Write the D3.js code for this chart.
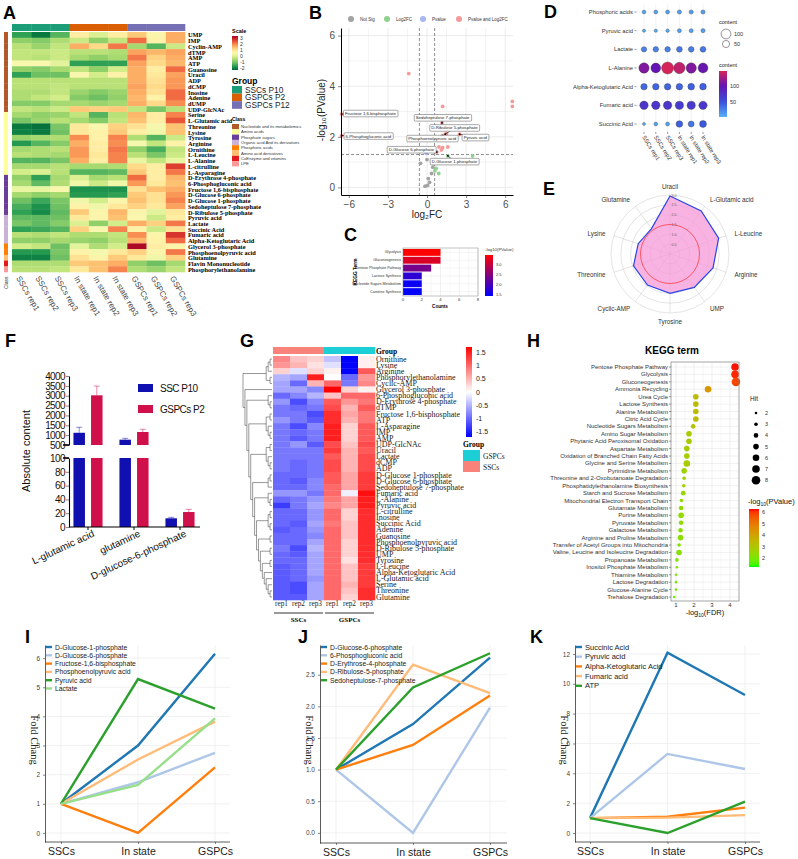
<!DOCTYPE html>
<html>
<head>
<meta charset="utf-8">
<title>Metabolomics figure</title>
<script src="https://cdn.jsdelivr.net/npm/d3@7"></script>
<style>
  body { margin: 0; background: #fff; }
  svg { display: block; }
</style>
</head>
<body>
<svg id="fig" width="798" height="859"></svg>
<script>
// ---------- A: clustered heatmap ----------
const aCols = ["SSCs rep1", "SSCs rep2", "SSCs rep3", "In state rep1", "In state rep2", "In state rep3", "GSPCs rep1", "GSPCs rep2", "GSPCs rep3"];
const aGroupNames = ["SSCs P10", "GSPCs P2", "GSPCs P12"];
const aGroupOfCol = [0, 0, 0, 1, 1, 1, 2, 2, 2];
const aRows = ["UMP", "IMP", "Cyclin-AMP", "dTMP", "AMP", "ATP", "Guanosine", "Uracil", "ADP", "dCMP", "Inosine", "Adenine", "dUMP", "UDP-GlcNAc",
  "Serine", "L-Glutamic acid", "Threonine", "Lysine", "Tyrosine", "Arginine", "Ornithine", "L-Leucine", "L-Alanine", "L-citrulline", "L-Asparagine",
  "D-Erythrose 4-phosphate", "6-Phosphogluconic acid", "Fructose 1,6-bisphosphate", "D-Glucose 6-phosphate", "D-Glucose 1-phosphate", "Sedoheptulose 7-phosphate", "D-Ribulose 5-phosphate",
  "Pyruvic acid", "Lactate", "Succinic Acid", "Fumaric acid", "Alpha-Ketoglutaric Acid", "Glycerol 3-phosphate", "Phosphoenolpyruvic acid",
  "Glutamine", "Flavin Mononucleotide", "Phosphorylethanolamine"];
const aClassNames = ["Nucleotide and its metabolomics", "Amino acids", "Phosphate sugars", "Organic acid And its derivatives", "Phosphoric acids", "Amino acid derivatives", "CoEnzyme and vitamins", "LPE"];
const aClassOfRow = [0,0,0,0,0,0,0,0,0,0,0,0,0,0, 1,1,1,1,1,1,1,1,1,1,1, 2,2,2,2,2,2,2, 3,3,3,3,3, 4,4, 5, 6, 7];
const aValues = [
  [-1.6,-2.1,-1.3, 0.8, 0.0, 0.8, 1.3, 0.6, 1.6],
  [-0.8,-0.9,-0.5,-0.2,-0.8,-0.3, 2.2, 0.7, 1.6],
  [-0.4,-0.7,-0.3, 1.6, 1.1, 2.1,-0.6,-1.3,-0.2],
  [-0.3,-0.3,-0.2,-0.4,-0.4,-0.5, 1.7, 1.5, 1.7],
  [-0.3,-0.4,-0.2,-0.6,-0.8,-0.6, 2.1, 1.2, 1.6],
  [ 0.5, 0.5, 0.1,-1.6,-1.6,-1.6, 1.7, 1.1, 1.5],
  [-0.8,-0.9,-0.6,-0.3,-0.8,-0.1, 1.6, 0.8, 2.2],
  [-1.6,-1.1,-1.1, 0.5,-0.1, 0.7, 1.6, 0.9, 1.7],
  [-0.4,-0.4,-0.4,-0.4,-0.4,-0.4, 1.6, 1.0, 1.8],
  [-0.4,-0.4,-0.3,-0.4,-0.4,-0.4, 1.7, 1.1, 1.8],
  [-0.5,-0.5,-0.3,-0.7,-0.9,-0.7, 1.6, 1.0, 2.2],
  [-0.5,-0.3,-0.1,-0.9,-1.1,-0.8, 1.5, 0.7, 2.2],
  [-0.9,-0.9,-0.6,-0.6,-0.7,-0.6, 1.6, 1.1, 1.9],
  [-0.3,-0.4,-0.2, 1.3, 1.2, 1.3,-0.3,-1.0,-0.4],
  [-0.6,-0.8,-0.7,-0.3,-1.3,-0.4, 1.5, 0.8, 2.0],
  [-1.0,-0.7,-0.4,-0.6,-0.9,-0.3, 1.4, 0.8, 2.4],
  [-2.1,-2.2,-1.0, 0.9, 0.5, 1.2, 1.0, 0.4, 1.4],
  [-2.0,-2.1,-1.1, 0.9, 0.7, 1.3, 0.8, 0.3, 1.4],
  [-0.7,-0.6,-0.5, 1.9, 0.7, 2.0,-0.5,-1.3,-0.2],
  [-1.7,-1.3,-0.9, 1.6, 0.8, 1.9, 0.4,-0.3, 0.7],
  [-0.6,-0.5,-0.4, 1.8, 0.8, 2.1,-0.8,-1.4,-0.3],
  [-0.4,-0.5,-0.6, 1.8, 0.9, 2.0,-0.4,-1.0,-0.2],
  [-1.3,-1.3,-1.0, 1.6, 0.8, 2.0, 0.2,-0.3, 0.2],
  [-0.6,-0.6,-0.4,-0.6,-0.6,-0.5, 1.1, 0.8, 2.6],
  [-0.1, 0.0,-0.4,-1.3,-1.3,-1.2, 1.3, 0.8, 2.1],
  [-0.8,-1.6,-0.6, 0.0,-0.6,-0.4, 2.2, 0.8, 1.5],
  [-0.6,-1.2,-0.5, 0.3,-0.2, 0.3, 1.8, 0.9, 1.4],
  [ 0.2, 0.2, 0.5,-1.8,-1.8,-1.8, 1.0, 1.4, 1.6],
  [-0.6,-0.8,-0.6,-1.7,-1.7,-1.6, 1.3, 1.0, 1.8],
  [-1.1,-1.5,-1.0, 0.3,-0.1, 0.6, 1.4, 1.0, 2.0],
  [-1.4,-1.8,-1.1, 0.7, 0.3, 0.9, 1.2, 0.9, 1.7],
  [-1.6,-1.9,-1.2, 1.3, 0.6, 1.5, 0.6, 0.1, 0.9],
  [-1.2,-1.2,-1.1, 0.9, 0.6, 1.4, 0.5,-0.2, 0.8],
  [-1.0,-1.2,-0.9, 0.0,-0.8,-0.1, 1.6, 1.2, 2.1],
  [-1.6,-1.5,-1.3, 1.2, 0.5, 2.0, 0.7,-0.2, 1.0],
  [-0.4,-0.5,-0.3,-0.5,-0.5,-0.3, 1.9, 0.6, 2.7],
  [-0.8,-0.8,-0.6,-0.7,-0.8,-0.4, 1.5, 0.7, 2.2],
  [-0.1,-0.3,-1.1, 0.1,-0.5,-0.1, 3.2, 0.8, 0.6],
  [-1.7,-1.7,-1.0, 0.7, 0.4, 0.9, 1.2, 0.6, 2.1],
  [-2.0,-2.0,-1.1, 1.0, 0.6, 1.3, 0.9, 0.3, 1.2],
  [-0.5,-0.5,-0.5, 1.3, 1.4, 1.6,-0.8,-1.1,-0.6],
  [-0.4,-0.4,-0.3, 0.9, 1.4, 2.0,-0.5,-0.7,-0.3]
];

// ---------- B: volcano ----------
const volFC = [-1.4, 6.55, 6.55, -6.55, -6.55, 1.2, 1.15, 1.4, 1.5, 2.5, 1.2, 0.75, 0.92, 1.2, 1.6, 1.1, 1.45, 1.6, 3.5, 0.9, 0.8, -0.05, 0.0, -0.5, 0.45, 0.1, 0.2, 0.05, -0.15, 0.6, 0.7, 0.35];
const volP = [4.5, 3.4, 3.2, 2.9, 2.05, 3.2, 2.55, 2.1, 2.12, 2.1, 2.05, 1.4, 1.6, 1.57, 1.6, 1.48, 2.07, 1.25, 1.25, 0.55, 0.95, 1.35, 1.1, 0.95, 0.8, 0.35, 0.2, 0.08, 0.05, 0.65, 0.75, 0.55];
const volLabels = [
  { name: "Fructose 1,6-bisphosphate", i: 3, fc: -4.34, p: 2.92 },
  { name: "6-Phosphogluconic acid", i: 4, fc: -4.5, p: 2.03 },
  { name: "Sedoheptulose 7-phosphate", i: 6, fc: 1.2, p: 2.75 },
  { name: "D-Ribulose 5-phosphate", i: 7, fc: 2.1, p: 2.35 },
  { name: "Pyruvic acid", i: 9, fc: 3.7, p: 1.97 },
  { name: "Phosphoenolpyruvic acid", i: 10, fc: 0.4, p: 1.93 },
  { name: "D-Glucose 6-phosphate", i: 11, fc: -1.2, p: 1.49 },
  { name: "D-Glucose 1-phosphate", i: 17, fc: 2.1, p: 1.02 }
];
const volLegend = ["Not Sig", "Log2FC", "Pvalue", "Pvalue and Log2FC"];

// ---------- C: KEGG bars ----------
const cTerms = ["Glycolysis", "Gluconeogenesis", "Pentose Phosphate Pathway", "Lactose Synthesis", "Nucleotide Sugars Metabolism", "Carnitine Synthesis"];
const cCounts = [4, 4, 3, 2, 2, 2];
const cLogP = [3.45, 3.15, 2.35, 1.75, 1.5, 1.42];

// ---------- D: bubble ----------
const dMetabolites = ["Phosphoric acids", "Pyruvic acid", "Lactate", "L-Alanine", "Alpha-Ketoglutaric Acid", "Fumaric acid", "Succinic Acid"];
const dSamples = ["SSCs rep1", "SSCs rep2", "SSCs rep3", "In state rep1", "In state rep2", "In state rep3"];
const dContent = [
  [8, 9, 10, 12, 12, 12],
  [3, 4, 6, 10, 10, 11],
  [25, 26, 26, 30, 28, 30],
  [112, 100, 155, 138, 112, 102],
  [38, 40, 40, 40, 42, 42],
  [72, 72, 72, 68, 68, 70],
  [2, 8, 10, 42, 32, 46]
];

// ---------- E: radar ----------
const eAxes = ["Uracil", "L-Glutamic acid", "L-Leucine", "Arginine", "UMP", "Tyrosine", "Cyclic-AMP", "Threonine", "Lysine", "Glutamine"];
const eValues = [2.95, 2.7, 2.6, 2.3, 2.1, 2.0, 1.95, 1.95, 1.7, 1.6];
const eRings = [0.5, 1.0, 1.5, 2.0, 2.5, 3.0];

// ---------- F: broken-axis bars ----------
const fMetabolites = ["L-glutamic acid", "glutamine", "D-glucose-6-phosphate"];
const fSeries = ["SSC P10", "GSPCs P2"];
const fSSC = [1120, 770, 12.6];
const fSSCErr = [280, 70, 1.4];
const fGSPC = [3020, 1160, 21.7];
const fGSPCErr = [470, 136, 3.9];

// ---------- G: z-score heatmap ----------
const gSamples = ["rep1", "rep2", "rep3", "rep1 ", "rep2 ", "rep3 "];
const gGroups = ["SSCs", "SSCs", "SSCs", "GSPCs", "GSPCs", "GSPCs"];
const gRows = ["Ornithine", "Lysine", "Arginine", "Phosphorylethanolamine", "Cyclic-AMP", "Glycerol 3-phosphate", "6-Phosphogluconic acid",
  "D-Erythrose 4-phosphate", "dTMP", "Fructose 1,6-bisphosphate", "ATP", "L-Asparagine", "IMP", "AMP", "UDP-GlcNAc", "Uracil", "Lactate",
  "dCMP", "ADP", "D-Glucose 1-phosphate", "D-Glucose 6-phosphate", "Sedoheptulose 7-phosphate", "Fumaric acid", "L-Alanine", "Pyruvic acid",
  "L-citrulline", "Inosine", "Succinic Acid", "Adenine", "Guanosine", "Phosphoenolpyruvic acid", "D-Ribulose 5-phosphate", "UMP", "Tyrosine",
  "L-Leucine", "Alpha-Ketoglutaric Acid", "L-Glutamic acid", "Serine", "Threonine", "Glutamine"];
const gValues = [
  [0.8, 0.4, 0.3, -0.4, -1.8, 0.1],
  [0.7, 0.5, 0.2, -0.2, -1.8, 0.1],
  [0.3, -0.2, 0.3, 0.1, -1.8, 1.1],
  [-0.5, -0.6, 1.5, 0.0, -1.0, 0.7],
  [-0.6, -1.0, 0.5, 1.0, -0.9, 0.8],
  [-0.6, -0.6, -0.8, 1.9, 0.3, 0.1],
  [-1.0, -0.8, -0.5, 0.4, 1.0, 1.0],
  [-0.7, -1.2, -0.8, 1.1, 0.7, 0.9],
  [-0.9, -1.0, -0.9, 1.2, 0.5, 1.1],
  [-0.9, -0.9, -1.2, 1.4, 0.6, 0.9],
  [-0.7, -0.9, -1.1, 1.4, 0.5, 0.9],
  [-0.9, -1.2, -0.8, 1.5, 0.3, 1.1],
  [-0.9, -1.0, -0.9, 1.5, 0.3, 1.1],
  [-0.9, -1.1, -0.9, 1.5, 0.3, 1.1],
  [-0.9, -0.7, -1.1, 1.2, 0.4, 1.2],
  [-0.9, -0.9, -0.9, 1.3, 0.5, 1.1],
  [-0.9, -0.9, -0.9, 1.1, 0.5, 1.2],
  [-0.9, -1.0, -0.9, 1.2, 0.5, 1.2],
  [-0.9, -1.0, -0.9, 1.2, 0.5, 1.2],
  [-1.0, -1.0, -0.9, 1.1, 0.6, 1.3],
  [-1.0, -1.1, -0.8, 1.1, 0.6, 1.3],
  [-1.0, -1.0, -0.8, 1.0, 0.6, 1.3],
  [-0.7, -0.7, -0.9, 1.0, -0.1, 1.6],
  [-1.0, -0.9, -0.7, 0.9, 0.6, 1.5],
  [-1.3, -0.9, -0.6, 0.8, 0.6, 1.5],
  [-1.0, -1.0, -0.7, 1.0, 0.3, 1.4],
  [-1.0, -1.0, -0.7, 1.0, 0.3, 1.4],
  [-1.0, -1.1, -0.6, 0.9, 0.4, 1.4],
  [-1.1, -1.0, -0.7, 1.0, 0.4, 1.4],
  [-1.0, -1.0, -0.8, 1.0, 0.4, 1.4],
  [-1.0, -1.0, -0.6, 1.0, 0.3, 1.4],
  [-0.9, -1.2, -0.5, 1.0, 0.3, 1.4],
  [-1.0, -1.1, -0.6, 1.0, 0.3, 1.4],
  [-1.0, -1.0, -0.6, 1.0, 0.2, 1.4],
  [-1.1, -1.0, -0.6, 1.0, 0.4, 1.3],
  [-1.1, -1.0, -0.6, 1.0, 0.4, 1.3],
  [-1.1, -1.0, -0.7, 1.0, 0.4, 1.3],
  [-1.1, -1.2, -0.6, 1.0, 0.5, 1.3],
  [-1.1, -1.2, -0.6, 1.0, 0.4, 1.4],
  [-1.1, -1.1, -0.6, 1.0, 0.3, 1.4]
];
// row clustering (leaf = row index)
const gT5 = [[33, 34], [35, [36, [37, [38, 39]]]]];
const gT4 = [[29, 30], [[31, 32], gT5]];
const gT3 = [[[25, 26], [27, 28]], gT4];
const gT2 = [[22, [23, 24]], gT3];
const gT1 = [[[19, 20], 21], gT2];
const gT0 = [[[14, 15], [16, [17, 18]]], gT1];
const gTm = [[[9, 10], [11, [12, 13]]], gT0];
const gTr = [[6, [7, 8]], gTm];
const gTree = [[[[0, 1], 2], [3, 4]], [5, gTr]];

// ---------- H: KEGG dot plot ----------
const hTerms = ["Pentose Phosphate Pathway", "Glycolysis", "Gluconeogenesis", "Ammonia Recycling", "Urea Cycle", "Lactose Synthesis",
  "Alanine Metabolism", "Citric Acid Cycle", "Nucleotide Sugars Metabolism", "Amino Sugar Metabolism", "Phytanic Acid Peroxisomal Oxidation",
  "Aspartate Metabolism", "Oxidation of Branched Chain Fatty Acids", "Glycine and Serine Metabolism", "Pyrimidine Metabolism",
  "Threonine and 2-Oxobutanoate Degradation", "Phosphatidylethanolamine Biosynthesis", "Starch and Sucrose Metabolism",
  "Mitochondrial Electron Transport Chain", "Glutamate Metabolism", "Purine Metabolism", "Pyruvate Metabolism", "Galactose Metabolism",
  "Arginine and Proline Metabolism", "Transfer of Acetyl Groups into Mitochondria", "Valine, Leucine and Isoleucine Degradation",
  "Propanoate Metabolism", "Inositol Phosphate Metabolism", "Thiamine Metabolism", "Lactose Degradation", "Glucose-Alanine Cycle", "Trehalose Degradation"];
const hFDR = [4.28, 4.28, 4.33, 2.78, 2.1, 2.1, 2.1, 2.1, 1.95, 1.72, 1.72, 1.6, 1.6, 1.6, 1.45, 1.45, 1.43, 1.4, 1.3, 1.28, 1.28, 1.28, 1.25, 1.25, 1.17, 1.17, 1.05, 1.05, 1.0, 1.0, 1.0, 0.9];
const hHit = [7, 7, 8, 6, 5, 5, 5, 5, 4, 5, 5, 5, 5, 6, 5, 3, 3, 4, 3, 4, 5, 4, 4, 5, 3, 5, 3, 2, 2, 2, 2, 2];
const hLogP = [6.2, 6.1, 5.8, 4.3, 3.3, 3.3, 3.3, 3.3, 3.1, 2.9, 2.9, 2.8, 2.8, 2.8, 2.6, 2.6, 2.6, 2.5, 2.4, 2.4, 2.4, 2.4, 2.3, 2.3, 2.2, 2.2, 2.1, 2.1, 2.0, 2.0, 2.0, 1.9];

// ---------- I, J, K: fold change lines ----------
const foldStages = ["SSCs", "In state", "GSPCs"];
const foldColors = ["#1f77b4", "#aec7e8", "#ff7f0e", "#ffbb78", "#2ca02c", "#98df8a"];
const iNames = ["D-Glucose-1-phosphate", "D-Glucose-6-phosphate", "Fructose-1,6-bisphosphate", "Phosphoenolpyruvic acid", "Pyruvic acid", "Lactate"];
const iValues = [[1, 3.0, 6.15], [1, 1.74, 2.75], [1, 0, 2.25], [1, 2.52, 3.82], [1, 5.28, 4.27], [1, 1.65, 3.93]];
const jNames = ["D-Glucose-6-phosphate", "6-Phosphogluconic acid", "D-Erythrose-4-phosphate", "D-Ribulose-5-phosphate", "Sedoheptulose-7-phosphate"];
const jValues = [[1, 1.72, 2.77], [1, 0, 1.98], [1, 1.39, 2.17], [1, 2.66, 2.21], [1, 2.3, 2.84]];
const kNames = ["Succinic Acid", "Pyruvic acid", "Alpha-Ketoglutaric Acid", "Fumaric acid", "ATP"];
const kValues = [[1, 12.08, 9.25], [1, 5.3, 4.29], [1, 1.09, 1.7], [1, 1.03, 1.2], [1, 0, 2.1]];

// =====================================================================
const SANS = '"Liberation Sans", Arial, Helvetica, sans-serif';
const SERIF = '"Liberation Serif", "Times New Roman", Times, serif';
const svg = d3.select("#fig").attr("font-family", SANS);
svg.append("rect").attr("width", 798).attr("height", 859).attr("fill", "#fff");
const defs = svg.append("defs");

function txt(g, x, y, s, size, o = {}) {
  const t = g.append("text")
    .attr("x", x).attr("y", y)
    .attr("font-size", size)
    .attr("fill", o.fill || "#000")
    .attr("text-anchor", o.anchor || "start")
    .text(s);
  if (o.bold) t.attr("font-weight", "bold");
  if (o.serif) t.attr("font-family", SERIF);
  if (o.rotate) t.attr("transform", `rotate(${o.rotate},${x},${y})`);
  if (o.mid) t.attr("dominant-baseline", "central");
  return t;
}

// vertical gradient, bottom = lo, top = hi
function gradient(id, color, lo, hi) {
  const lg = defs.append("linearGradient").attr("id", id)
    .attr("x1", 0).attr("y1", 1).attr("x2", 0).attr("y2", 0);
  d3.range(0, 1.0001, 0.05).forEach(t => {
    lg.append("stop").attr("offset", t).attr("stop-color", color(lo + t * (hi - lo)));
  });
  return `url(#${id})`;
}

function styleAxis(a, size, fill) {
  a.attr("font-family", SANS).attr("font-size", size);
  a.selectAll(".tick text").attr("fill", fill || "#4d4d4d");
  a.selectAll(".tick line").attr("stroke", "#333").attr("stroke-width", 0.6);
  return a;
}

// panel letters
[["A", 3, 19], ["B", 309, 19], ["C", 344, 241], ["D", 544, 18], ["E", 543, 195], ["F", 5, 347],
 ["G", 240, 347], ["H", 527, 347], ["I", 25, 643], ["J", 298, 643], ["K", 530, 643]]
  .forEach(([l, x, y]) => txt(svg, x, y, l, 18, { bold: true }));

// ---------------- A ----------------
{
  const g = svg.append("g");
  const x = d3.scaleBand().domain(aCols).range([12, 185]);
  const y = d3.scaleBand().domain(aRows).range([32, 272]);
  const color = d3.scaleSequential(t => d3.interpolateRdYlGn(1 - t)).domain([-2.3, 3.3]);
  const groupColor = d3.scaleOrdinal().domain(aGroupNames).range(["#1b9e77", "#d95f02", "#7570b3"]);
  const classColor = d3.scaleOrdinal().domain(aClassNames)
    .range(["#b15928", "#ffff99", "#6a3d9a", "#cab2d6", "#ff7f00", "#fdbf6f", "#e31a1c", "#fb9a99"]);

  aValues.forEach((row, i) => {
    g.append("g").selectAll("rect").data(row).join("rect")
      .attr("x", (d, j) => x(aCols[j])).attr("y", y(aRows[i]))
      .attr("width", x.bandwidth() + 0.3).attr("height", y.bandwidth() + 0.3)
      .attr("fill", d => color(d));
  });
  g.append("g").selectAll("rect").data(aCols).join("rect")
    .attr("x", d => x(d)).attr("y", 24).attr("width", x.bandwidth() + 0.3).attr("height", 7)
    .attr("fill", (d, j) => groupColor(aGroupNames[aGroupOfCol[j]]));
  g.append("g").selectAll("rect").data(aRows).join("rect")
    .attr("x", 4).attr("y", d => y(d)).attr("width", 4).attr("height", y.bandwidth() + 0.3)
    .attr("fill", (d, i) => classColor(aClassNames[aClassOfRow[i]]));
  g.append("g").selectAll("text").data(aRows).join("text")
    .attr("x", 188).attr("y", d => y(d) + y.bandwidth() / 2)
    .attr("dominant-baseline", "central")
    .attr("font-family", SERIF).attr("font-weight", "bold").attr("font-size", 6.3)
    .text(d => d);
  g.append("g").selectAll("text").data(aCols).join("text")
    .attr("transform", d => `translate(${x(d) + 4},${278}) rotate(60)`)
    .attr("font-size", 8).attr("fill", "#444").text(d => d);
  txt(g, 8, 289, "Class", 5, { rotate: -90, fill: "#333" });

  // legends
  txt(g, 232, 33, "Scale", 5.5, { bold: true });
  const ly = d3.scaleLinear().domain([-2.3, 3.3]).range([70, 36]);
  g.append("rect").attr("x", 232).attr("y", 36).attr("width", 6).attr("height", 34)
    .attr("fill", gradient("gradA", color, -2.3, 3.3));
  [3, 2, 1, 0, -1, -2].forEach(v => txt(g, 240, ly(v) + 1.7, v, 5, { fill: "#333" }));

  txt(g, 232, 84, "Group", 8.5, { bold: true });
  aGroupNames.forEach((n, k) => {
    g.append("rect").attr("x", 232).attr("y", 86 + k * 7.6).attr("width", 10).attr("height", 7.6).attr("fill", groupColor(n));
    txt(g, 245, 92.5 + k * 7.6, n, 8.3, { fill: "#222" });
  });
  txt(g, 232, 121, "Class", 5, { bold: true });
  aClassNames.forEach((n, k) => {
    g.append("rect").attr("x", 232).attr("y", 124 + k * 5.3).attr("width", 7).attr("height", 5.3).attr("fill", classColor(n));
    txt(g, 241, 128 + k * 5.3, n, 4.2, { fill: "#333" });
  });
}

// ---------------- B ----------------
{
  const g = svg.append("g");
  const x = d3.scaleLinear().domain([-6.6, 6.6]).range([341, 513]);
  const y = d3.scaleLinear().domain([-0.3, 6.3]).range([195, 28]);
  [-6, -4.5, -3, -1.5, 0, 1.5, 3, 4.5, 6].forEach(v =>
    g.append("line").attr("x1", x(v)).attr("x2", x(v)).attr("y1", 28).attr("y2", 195)
      .attr("stroke", "#e6e6e6").attr("stroke-width", Number.isInteger(v / 3) ? 0.8 : 0.5));
  [0, 1, 2, 3, 4, 5, 6].forEach(v =>
    g.append("line").attr("x1", 341).attr("x2", 513).attr("y1", y(v)).attr("y2", y(v))
      .attr("stroke", "#e6e6e6").attr("stroke-width", v % 2 ? 0.5 : 0.8));
  [-0.585, 0.585].forEach(v =>
    g.append("line").attr("x1", x(v)).attr("x2", x(v)).attr("y1", 28).attr("y2", 195)
      .attr("stroke", "#444").attr("stroke-width", 0.6).attr("stroke-dasharray", "3,2"));
  g.append("line").attr("x1", 341).attr("x2", 513).attr("y1", y(1.301)).attr("y2", y(1.301))
    .attr("stroke", "#444").attr("stroke-width", 0.6).attr("stroke-dasharray", "3,2");

  const cat = (fc, p) => Math.abs(fc) > 0.585 ? (p > 1.301 ? 3 : 1) : (p > 1.301 ? 2 : 0);
  const colors = ["#a3a3a3", "#8fd18f", "#a7b7f2", "#f49a9a"];
  g.append("g").selectAll("circle").data(volFC).join("circle")
    .attr("cx", d => x(d)).attr("cy", (d, i) => y(volP[i])).attr("r", 1.9)
    .attr("fill", (d, i) => colors[cat(d, volP[i])]);

  const ax = styleAxis(g.append("g").attr("transform", "translate(341,0)")
    .call(d3.axisLeft(y).tickValues([0, 2, 4, 6]).tickFormat(d3.format("d")).tickSize(3).tickSizeOuter(0)), 10);
  ax.select(".domain").attr("stroke", "#000").attr("stroke-width", 1);
  const bx = styleAxis(g.append("g").attr("transform", "translate(0,195)")
    .call(d3.axisBottom(x).tickValues([-6, -3, 0, 3, 6]).tickFormat(d3.format("d")).tickSize(3).tickSizeOuter(0)), 10);
  bx.select(".domain").attr("stroke", "#000").attr("stroke-width", 1);
  txt(g, 427, 218, "log₂FC", 10, { anchor: "middle", fill: "#222" });
  txt(g, 325, 110, "-log₁₀(PValue)", 10, { anchor: "middle", rotate: -90, fill: "#222" });

  volLabels.forEach(l => {
    const px = x(volFC[l.i]), py = y(volP[l.i]);
    const lx = x(l.fc), ly = y(l.p);
    g.append("line").attr("x1", px).attr("y1", py).attr("x2", lx).attr("y2", ly)
      .attr("stroke", "#000").attr("stroke-width", 0.6);
    g.append("circle").attr("cx", px).attr("cy", py).attr("r", 0.9).attr("fill", "#000");
    const t = txt(g, lx, ly, l.name, 4.3, { anchor: "middle", mid: true, fill: "#222" });
    const bb = t.node().getBBox();
    g.insert("rect", () => t.node())
      .attr("x", bb.x - 1.5).attr("y", bb.y - 0.8).attr("width", bb.width + 3).attr("height", bb.height + 1.6)
      .attr("rx", 1).attr("fill", "#fff").attr("stroke", "#555").attr("stroke-width", 0.5);
  });

  const legX = [351, 387, 423, 459];
  volLegend.forEach((n, k) => {
    g.append("circle").attr("cx", legX[k]).attr("cy", 19).attr("r", 3).attr("fill", colors[k]);
    txt(g, legX[k] + 9, 20.5, n, 4.5, { fill: "#333" });
  });
}

// ---------------- C ----------------
{
  const g = svg.append("g");
  const x = d3.scaleLinear().domain([0, 8]).range([403, 478]);
  const y = d3.scaleBand().domain(cTerms).range([248, 296]).padding(0.12);
  const color = d3.scaleLinear().domain([1.4, 3.45]).range(["#0000ff", "#ff0000"]);
  d3.range(0, 9).forEach(v =>
    g.append("line").attr("x1", x(v)).attr("x2", x(v)).attr("y1", 248).attr("y2", 296)
      .attr("stroke", "#e8e8e8").attr("stroke-width", v % 2 ? 0.3 : 0.6));
  cTerms.forEach(t =>
    g.append("line").attr("x1", 403).attr("x2", 478).attr("y1", y(t) + y.bandwidth() / 2).attr("y2", y(t) + y.bandwidth() / 2)
      .attr("stroke", "#e8e8e8").attr("stroke-width", 0.5));
  g.append("g").selectAll("rect").data(cTerms).join("rect")
    .attr("x", x(0)).attr("y", d => y(d)).attr("height", y.bandwidth())
    .attr("width", (d, i) => x(cCounts[i]) - x(0)).attr("fill", (d, i) => color(cLogP[i]));
  g.append("rect").attr("x", 403).attr("y", 248).attr("width", 75).attr("height", 48)
    .attr("fill", "none").attr("stroke", "#888").attr("stroke-width", 0.5);
  cTerms.forEach(t => {
    txt(g, 401, y(t) + y.bandwidth() / 2, t, 3.6, { anchor: "end", mid: true, fill: "#333" });
  });
  [0, 2, 4, 6, 8].forEach(v => txt(g, x(v), 301, v, 4.2, { anchor: "middle", fill: "#333" }));
  txt(g, 440, 308, "Counts", 4.6, { anchor: "middle", bold: true });
  txt(g, 357, 272, "KEGG Term", 4.8, { anchor: "middle", rotate: -90, bold: true });
  txt(g, 485, 251, "-log10(PValue)", 4.3, { fill: "#333" });
  const ly = d3.scaleLinear().domain([1.4, 3.45]).range([296, 255]);
  g.append("rect").attr("x", 485).attr("y", 255).attr("width", 8).attr("height", 41)
    .attr("fill", gradient("gradC", color, 1.4, 3.45));
  [3.0, 2.5, 2.0, 1.5].forEach(v => txt(g, 496, ly(v) + 1.5, v.toFixed(1), 4, { fill: "#333" }));
}

// ---------------- D ----------------
{
  const g = svg.append("g");
  const x = d3.scalePoint().domain(dSamples).range([644, 703]);
  const y = d3.scalePoint().domain(dMetabolites).range([12, 124]);
  const r = d3.scaleRadial().domain([0, 160]).range([1.34, 6.1]);
  const color = d3.scaleLinear().domain([3, 50, 100, 147]).range(["#56b1f7", "#3a4fdc", "#6414b4", "#d6245a"]).clamp(true);
  dSamples.forEach(s => g.append("line").attr("x1", x(s)).attr("x2", x(s)).attr("y1", 4).attr("y2", 132).attr("stroke", "#ebebeb").attr("stroke-width", 0.6));
  dMetabolites.forEach(m => g.append("line").attr("x1", 637).attr("x2", 710).attr("y1", y(m)).attr("y2", y(m)).attr("stroke", "#ebebeb").attr("stroke-width", 0.6));
  dContent.forEach((row, i) => {
    g.append("g").selectAll("circle").data(row).join("circle")
      .attr("cx", (d, j) => x(dSamples[j])).attr("cy", y(dMetabolites[i]))
      .attr("r", d => r(d)).attr("fill", d => color(d))
      .attr("stroke", "#333").attr("stroke-width", 0.35);
  });
  dMetabolites.forEach(m => {
    txt(g, 633, y(m), m, 5.8, { anchor: "end", mid: true, fill: "#333" });
    g.append("line").attr("x1", 634.5).attr("x2", 636.5).attr("y1", y(m)).attr("y2", y(m)).attr("stroke", "#333").attr("stroke-width", 0.5);
  });
  dSamples.forEach(s => {
    g.append("line").attr("x1", x(s)).attr("x2", x(s)).attr("y1", 132).attr("y2", 134).attr("stroke", "#333").attr("stroke-width", 0.5);
    g.append("text").attr("transform", `translate(${x(s) - 2},${137}) rotate(58)`)
      .attr("font-size", 5.8).attr("fill", "#333").text(s);
  });
  txt(g, 719, 24, "content", 5.5, { fill: "#222" });
  [100, 50].forEach((v, k) => {
    const cy = 34 + k * 10;
    g.append("circle").attr("cx", 726).attr("cy", cy).attr("r", r(v)).attr("fill", "none").attr("stroke", "#333").attr("stroke-width", 0.5);
    txt(g, 734, cy + 2, v, 5.5, { fill: "#333" });
  });
  txt(g, 719, 67, "content", 5.5, { fill: "#222" });
  const ly = d3.scaleLinear().domain([3, 147]).range([117, 71]);
  g.append("rect").attr("x", 719).attr("y", 71).attr("width", 8).attr("height", 46)
    .attr("fill", gradient("gradD", color, 3, 147));
  [100, 50].forEach(v => txt(g, 730, ly(v) + 2, v, 5.5, { fill: "#333" }));
}

// ---------------- E ----------------
{
  const g = svg.append("g").attr("transform", "translate(670,254)");
  const r = d3.scaleLinear().domain([0, 3]).range([0, 59]);
  const ang = i => i * 2 * Math.PI / eAxes.length;
  const pt = (i, v) => [r(v) * Math.sin(ang(i)), -r(v) * Math.cos(ang(i))];
  eRings.forEach(v => g.append("circle").attr("r", r(v)).attr("fill", "none").attr("stroke", "#c8c8c8").attr("stroke-width", 0.5));
  eAxes.forEach((a, i) => {
    const [px, py] = pt(i, 3);
    g.append("line").attr("x2", px).attr("y2", py).attr("stroke", "#c8c8c8").attr("stroke-width", 0.5);
  });
  g.append("path").datum(eValues)
    .attr("d", d3.line().x((d, i) => pt(i, d)[0]).y((d, i) => pt(i, d)[1]).curve(d3.curveLinearClosed))
    .attr("fill", "#f79ad9").attr("fill-opacity", 0.75);
  g.append("circle").attr("r", r(1.5)).attr("fill", "none").attr("stroke", "#ff3030").attr("stroke-width", 0.7);
  g.append("path").datum(eValues)
    .attr("d", d3.line().x((d, i) => pt(i, d)[0]).y((d, i) => pt(i, d)[1]).curve(d3.curveLinearClosed))
    .attr("fill", "none").attr("stroke", "#2a45e6").attr("stroke-width", 1.2);
  eRings.forEach(v => txt(g, 1.5, -r(v) + 1.5, v.toFixed(1), 3.6, { fill: "#666" }));
  eAxes.forEach((a, i) => {
    const s = Math.sin(ang(i));
    const [px, py] = pt(i, 3.45);
    const anchor = Math.abs(s) < 0.1 ? "middle" : (s > 0 ? "start" : "end");
    txt(g, px, py, a, 6.3, { anchor, mid: true, fill: "#333" });
  });
}

// ---------------- F ----------------
{
  const g = svg.append("g");
  const x = d3.scalePoint().domain(fMetabolites).range([88, 180]);
  const off = d3.scalePoint().domain(fSeries).range([-8.8, 8.8]);
  const yTop = d3.scaleLinear().domain([500, 4000]).range([445, 376]);
  const yBot = d3.scaleLinear().domain([0, 100]).range([527, 458]);
  const colors = { "SSC P10": "#1010b0", "GSPCs P2": "#d0104a" };
  const bw = 11.5;
  const series = [[fSeries[0], fSSC, fSSCErr], [fSeries[1], fGSPC, fGSPCErr]];
  series.forEach(([name, vals, errs]) => {
    vals.forEach((v, i) => {
      const cx = x(fMetabolites[i]) + off(name);
      g.append("rect").attr("x", cx - bw / 2).attr("width", bw)
        .attr("y", yBot(Math.min(v, 100))).attr("height", 527 - yBot(Math.min(v, 100))).attr("fill", colors[name]);
      if (v > 500) {
        g.append("rect").attr("x", cx - bw / 2).attr("width", bw)
          .attr("y", yTop(v)).attr("height", 445 - yTop(v)).attr("fill", colors[name]);
      }
      const ys = v > 500 ? yTop : yBot;
      g.append("path").attr("d", `M${cx},${ys(v)}V${ys(v + errs[i])}M${cx - 3},${ys(v + errs[i])}H${cx + 3}`)
        .attr("stroke", colors[name]).attr("stroke-opacity", 0.55).attr("stroke-width", 0.9).attr("fill", "none");
    });
  });
  const at = styleAxis(g.append("g").attr("transform", "translate(69,0)")
    .call(d3.axisLeft(yTop).tickValues(d3.range(500, 4001, 500)).tickFormat(d3.format("d")).tickSize(3).tickSizeOuter(0)), 10, "#111");
  at.select(".domain").attr("stroke", "#000").attr("stroke-width", 1.1);
  at.selectAll(".tick text").attr("letter-spacing", -0.6).attr("x", -4);
  const ab = styleAxis(g.append("g").attr("transform", "translate(69,0)")
    .call(d3.axisLeft(yBot).ticks(5).tickFormat(d3.format("d")).tickSize(3).tickSizeOuter(0)), 10, "#111");
  ab.select(".domain").attr("stroke", "#000").attr("stroke-width", 1.1);
  ab.selectAll(".tick text").attr("letter-spacing", -0.6).attr("x", -4);
  [445, 458].forEach(v => g.append("line").attr("x1", 63).attr("x2", 69).attr("y1", v).attr("y2", v).attr("stroke", "#000").attr("stroke-width", 1.6));
  g.append("line").attr("x1", 69).attr("x2", 200).attr("y1", 527).attr("y2", 527).attr("stroke", "#000").attr("stroke-width", 1.1);
  fMetabolites.forEach(m => {
    g.append("line").attr("x1", x(m)).attr("x2", x(m)).attr("y1", 527).attr("y2", 530).attr("stroke", "#000").attr("stroke-width", 1);
    txt(g, x(m) + 7, 536, m, 10, { anchor: "end", rotate: -25, fill: "#111" });
  });
  txt(g, 30, 451, "Absolute content", 11, { anchor: "middle", rotate: -90, fill: "#111" });
  fSeries.forEach((n, k) => {
    g.append("rect").attr("x", 138).attr("y", 384 + k * 21).attr("width", 15).attr("height", 8).attr("fill", colors[n]);
    txt(g, 160, 392 + k * 21, n, 10, { fill: "#111" }).attr("letter-spacing", -0.5);
  });
}

// ---------------- G ----------------
{
  const g = svg.append("g");
  const x = d3.scaleBand().domain(gSamples).range([273, 375]);
  const y = d3.scaleBand().domain(gRows).range([356, 600]);
  const color = d3.scaleLinear().domain([-1.7, 0, 1.7]).range(["#0000ff", "#ffffff", "#ff0000"]).clamp(true);
  const groupColor = d3.scaleOrdinal().domain(["GSPCs", "SSCs"]).range(["#1ccfd6", "#f9837b"]);
  gValues.forEach((row, i) => {
    g.append("g").selectAll("rect").data(row).join("rect")
      .attr("x", (d, j) => x(gSamples[j])).attr("y", y(gRows[i]))
      .attr("width", x.bandwidth() + 0.3).attr("height", y.bandwidth() + 0.3)
      .attr("fill", d => color(d));
  });
  g.append("g").selectAll("rect").data(gSamples).join("rect")
    .attr("x", d => x(d)).attr("y", 347).attr("width", x.bandwidth() + 0.3).attr("height", 7)
    .attr("fill", (d, j) => groupColor(gGroups[j]));
  txt(g, 376, 353.5, "Group", 7.5, { bold: true, serif: true });
  g.append("g").selectAll("text").data(gRows).join("text")
    .attr("x", 376).attr("y", d => y(d) + y.bandwidth() / 2 + 2.6)
    .attr("font-family", SERIF).attr("font-size", 8).attr("fill", "#222").text(d => d);
  // dendrogram
  const root = d3.hierarchy(gTree, d => Array.isArray(d) ? d : null);
  const dx = n => 272 - n.height / root.height * 29;
  const dyMemo = new Map();
  const dy = n => {
    if (dyMemo.has(n)) return dyMemo.get(n);
    const v = n.children ? (dy(n.children[0]) + dy(n.children[n.children.length - 1])) / 2
      : y(gRows[n.data]) + y.bandwidth() / 2;
    dyMemo.set(n, v);
    return v;
  };
  const dg = g.append("g").attr("stroke", "#333").attr("stroke-width", 0.5).attr("fill", "none");
  root.each(n => {
    if (!n.children) return;
    const ys = n.children.map(dy);
    dg.append("path").attr("d", `M${dx(n)},${d3.min(ys)}V${d3.max(ys)}`);
    n.children.forEach(c => dg.append("path").attr("d", `M${dx(n)},${dy(c)}H${dx(c)}`));
  });
  gSamples.forEach(s => txt(g, x(s) + x.bandwidth() / 2, 606, s.trim(), 7.3, { anchor: "middle", serif: true, fill: "#222" }));
  ["SSCs", "GSPCs"].forEach(grp => {
    const cols = gSamples.filter((s, j) => gGroups[j] === grp);
    const x0 = x(cols[0]) + 1, x1 = x(cols[cols.length - 1]) + x.bandwidth() - 1;
    g.append("line").attr("x1", x0).attr("x2", x1).attr("y1", 613).attr("y2", 613).attr("stroke", "#000").attr("stroke-width", 0.8);
    txt(g, (x0 + x1) / 2, 622, grp, 7, { anchor: "middle", bold: true, serif: true });
  });
  // legends
  const ly = d3.scaleLinear().domain([-1.7, 1.7]).range([437, 347]);
  g.append("rect").attr("x", 466).attr("y", 347).attr("width", 6).attr("height", 90)
    .attr("fill", gradient("gradG", color, -1.7, 1.7));
  [1.5, 1, 0.5, 0, -0.5, -1, -1.5].forEach(v => txt(g, 476, ly(v) + 2.5, v, 7, { fill: "#222" }));
  txt(g, 463, 447, "Group", 7.5, { bold: true, serif: true });
  ["GSPCs", "SSCs"].forEach((n, k) => {
    g.append("rect").attr("x", 463).attr("y", 450 + k * 11).attr("width", 17).attr("height", 11).attr("fill", groupColor(n));
    txt(g, 483, 458.5 + k * 11, n, 7.5, { serif: true, fill: "#222" });
  });
}

// ---------------- H ----------------
{
  const g = svg.append("g");
  const x = d3.scaleLinear().domain([0.72, 4.5]).range([671, 739]);
  const y = d3.scalePoint().domain(hTerms).range([367, 597]);
  const color = d3.scaleLinear().domain([1.25, 6.25]).range(["#00ff00", "#ff0000"]).interpolate(d3.interpolateLab);
  const r = d3.scaleLinear().domain([2, 8]).range([1.3, 4.3]);
  txt(g, 672, 354, "KEGG term", 10, { anchor: "middle", bold: true });
  [1, 1.5, 2, 2.5, 3, 3.5, 4].forEach(v =>
    g.append("line").attr("x1", x(v)).attr("x2", x(v)).attr("y1", 362).attr("y2", 601)
      .attr("stroke", "#e8e8e8").attr("stroke-width", Number.isInteger(v) ? 0.7 : 0.4));
  hTerms.forEach(t => g.append("line").attr("x1", 671).attr("x2", 739).attr("y1", y(t)).attr("y2", y(t)).attr("stroke", "#e8e8e8").attr("stroke-width", 0.6));
  g.append("g").selectAll("circle").data(hTerms).join("circle")
    .attr("cx", (d, i) => x(hFDR[i])).attr("cy", d => y(d))
    .attr("r", (d, i) => r(hHit[i])).attr("fill", (d, i) => color(hLogP[i]));
  g.append("rect").attr("x", 671).attr("y", 362).attr("width", 68).attr("height", 239)
    .attr("fill", "none").attr("stroke", "#7f7f7f").attr("stroke-width", 0.7);
  hTerms.forEach(t => {
    txt(g, 668, y(t), t, 6, { anchor: "end", mid: true, fill: "#333" });
    g.append("line").attr("x1", 669).attr("x2", 671).attr("y1", y(t)).attr("y2", y(t)).attr("stroke", "#333").attr("stroke-width", 0.5);
  });
  [1, 2, 3, 4].forEach(v => txt(g, x(v), 607, v, 6, { anchor: "middle", fill: "#333" }));
  const xl = txt(g, 705, 615, "-log", 7.5, { anchor: "middle", fill: "#111" });
  xl.append("tspan").attr("font-size", 5).attr("dy", 1.5).text("10");
  xl.append("tspan").attr("dy", -1.5).text("(FDR)");
  txt(g, 750, 401, "Hit", 6.5, { fill: "#222" });
  [2, 3, 4, 5, 6, 7, 8].forEach((v, k) => {
    g.append("circle").attr("cx", 756).attr("cy", 413 + k * 11.2).attr("r", r(v)).attr("fill", "#000");
    txt(g, 765, 415 + k * 11.2, v, 5.5, { fill: "#333" });
  });
  const cl = txt(g, 748, 504, "-log", 7.5, { fill: "#111" });
  cl.append("tspan").attr("font-size", 5).attr("dy", 1.5).text("10");
  cl.append("tspan").attr("dy", -1.5).text("(PValue)");
  const ly = d3.scaleLinear().domain([1.25, 6.25]).range([567, 509]);
  g.append("rect").attr("x", 749).attr("y", 509).attr("width", 10).attr("height", 58)
    .attr("fill", gradient("gradH", color, 1.25, 6.25));
  [6, 5, 4, 3, 2].forEach(v => txt(g, 762, ly(v) + 2, v, 5.5, { fill: "#333" }));
}

// ---------------- I, J, K ----------------
function foldPanel(cfg) {
  const g = svg.append("g");
  const x = d3.scalePoint().domain(foldStages).range(cfg.xr);
  const y = d3.scaleLinear().domain(cfg.yd).range([cfg.bottom, 645]);
  cfg.ticks.forEach(v => g.append("line").attr("x1", cfg.left).attr("x2", cfg.right).attr("y1", y(v)).attr("y2", y(v)).attr("stroke", "#ebebeb").attr("stroke-width", 0.7));
  foldStages.forEach(s => g.append("line").attr("x1", x(s)).attr("x2", x(s)).attr("y1", 645).attr("y2", cfg.bottom).attr("stroke", "#ebebeb").attr("stroke-width", 0.7));
  const line = d3.line().x((d, i) => x(foldStages[i])).y(d => y(d));
  cfg.values.forEach((vals, k) => {
    g.append("path").datum(vals).attr("d", line).attr("fill", "none")
      .attr("stroke", foldColors[k]).attr("stroke-width", 2.4);
  });
  const ay = styleAxis(g.append("g").attr("transform", `translate(${cfg.left},0)`)
    .call(d3.axisLeft(y).tickValues(cfg.ticks).tickFormat(cfg.fmt).tickSize(2).tickSizeOuter(0)), 6.5, "#444");
  ay.select(".domain").attr("stroke", "#333").attr("stroke-width", 0.8);
  const ax = styleAxis(g.append("g").attr("transform", `translate(0,${cfg.bottom})`)
    .call(d3.axisBottom(x).tickSize(2).tickSizeOuter(0)), 10.5, "#222");
  ax.select(".domain").attr("stroke", "#333").attr("stroke-width", 0.8).attr("d", `M${cfg.left},0H${cfg.right}`);
  ax.selectAll(".tick text").attr("y", 6);
  txt(g, cfg.left - 14, 740, "Fold Chang", 10.5, { anchor: "middle", rotate: 90, serif: true, fill: "#222" });
  cfg.names.forEach((n, k) => {
    const ly = 647 + k * cfg.step;
    g.append("line").attr("x1", cfg.left + 1).attr("x2", cfg.left + 7).attr("y1", ly).attr("y2", ly)
      .attr("stroke", foldColors[k]).attr("stroke-width", 2.4);
    txt(g, cfg.left + 10, ly, n, cfg.font, { mid: true, fill: "#222" });
  });
}
foldPanel({ names: iNames, values: iValues, xr: [61, 215], left: 45, right: 230, bottom: 842, yd: [-0.31, 6.45], ticks: [0, 1, 2, 3, 4, 5, 6], fmt: d3.format("d"), step: 8.3, font: 6.8 });
foldPanel({ names: jNames, values: jValues, xr: [336, 490], left: 320, right: 507, bottom: 843, yd: [-0.16, 2.97], ticks: [0, 0.5, 1, 1.5, 2, 2.5], fmt: d3.format(".1f"), step: 8.3, font: 6.8 });
foldPanel({ names: kNames, values: kValues, xr: [590, 745], left: 575, right: 760, bottom: 842, yd: [-0.6, 12.6], ticks: [0, 2, 4, 6, 8, 10, 12], fmt: d3.format("d"), step: 9.7, font: 7.5 });
</script>
</body>
</html>
